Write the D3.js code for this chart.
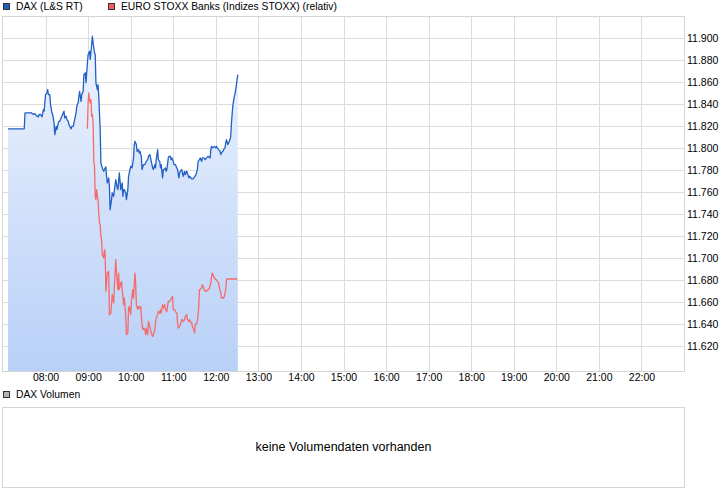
<!DOCTYPE html>
<html>
<head>
<meta charset="utf-8">
<title>DAX (L&amp;S RT) Intraday</title>
<script src="https://d3js.org/d3.v7.min.js"></script>
<style>
  body { margin: 0; background: #fff; }
  svg { display: block; font-family: "Liberation Sans", Arial, sans-serif; }
  .grid line { stroke: #dcdcdc; shape-rendering: crispEdges; }
  .frame { fill: none; stroke: #d4d4d4; shape-rendering: crispEdges; }
  .axis text { font-size: 10.5px; fill: #000; }
  .axis path, .axis line { display: none; }
  .legend text { font-size: 10.3px; fill: #000; }
</style>
</head>
<body>
<svg id="chart" width="726" height="496"></svg>
<script>
// DAX (L&S RT), intraday points
const daxTimes = ["07:07","07:30","07:31","07:40","07:43","07:45","07:47","07:50","07:51","07:53","07:55","07:57","07:58",
  "08:00","08:02","08:03","08:04","08:06","08:07","08:09","08:10","08:12","08:13","08:15","08:16","08:18","08:19","08:20",
  "08:22","08:23","08:25","08:26","08:27","08:29","08:30","08:32","08:33","08:34","08:36","08:37","08:39","08:40","08:41",
  "08:43","08:44","08:46","08:47","08:48","08:50","08:51","08:53","08:54","08:56","08:57","08:59",
  "09:00","09:02","09:03","09:05","09:06","09:07","09:09","09:10","09:11","09:13","09:14","09:15","09:17","09:18","09:20",
  "09:22","09:24","09:25","09:26","09:27","09:29","09:30","09:31","09:33","09:34","09:36","09:38","09:39","09:41","09:42",
  "09:44","09:45","09:46","09:48","09:49","09:50","09:51","09:53","09:54","09:56","09:57","09:59",
  "10:00","10:02","10:03","10:04","10:05","10:06","10:08","10:09","10:11","10:12","10:13","10:15","10:16","10:18","10:20",
  "10:21","10:22","10:24","10:25","10:27","10:28","10:29","10:31","10:32","10:34","10:35","10:36","10:38","10:39","10:41",
  "10:42","10:43","10:45","10:46","10:47","10:49","10:50","10:51","10:53","10:54","10:56","10:57","10:58",
  "11:00","11:01","11:03","11:05","11:06","11:08","11:09","11:10","11:12","11:13","11:14","11:16","11:17","11:19","11:20",
  "11:22","11:23","11:25","11:26","11:28","11:30","11:32","11:34","11:35","11:37","11:38","11:40","11:41","11:43","11:45",
  "11:47","11:49","11:52","11:53","11:54","11:56","11:58",
  "12:00","12:01","12:02","12:04","12:06","12:07","12:08","12:10","12:11","12:13","12:14","12:15","12:17","12:18","12:20",
  "12:21","12:22","12:24","12:26","12:27","12:29","12:31"];
const daxValues = [11817.5,11817.5,11832,11832,11830.5,11831.4,11829.5,11828.4,11830.5,11830.5,11828.4,11835,11833.5,
  11848.6,11850.2,11853.2,11848.6,11848.6,11839.5,11832,11830.5,11822.9,11812.3,11819.8,11816.8,11822.9,11824.4,11824.4,
  11827.5,11828.9,11832,11833.5,11827.5,11828.9,11825.9,11824.4,11821.4,11819.8,11817.5,11819.8,11819.8,11822.9,11825.9,
  11832,11838,11841.1,11847.1,11851.6,11842.5,11848.6,11851.6,11866.8,11868.4,11859.3,11877.5,
  11885,11888,11880.5,11894.1,11901.6,11895.6,11886.5,11885,11859.3,11853.2,11857.7,11847.1,11816.8,11786.5,11782,
  11778.9,11782,11782.9,11774.4,11768.4,11772.9,11765.3,11744.1,11753.2,11759.3,11756.2,11766.8,11771.4,11763.8,11762.3,
  11777.5,11769.8,11762.3,11768.4,11756.2,11762.3,11762.3,11759.3,11753.2,11762.3,11774.4,11780.5,
  11783.5,11782,11786.5,11791.1,11803.2,11806.2,11803.2,11797.1,11798.6,11795.6,11797.1,11792.5,11780.5,11785,11785,
  11786.5,11788,11789.5,11792.5,11794.1,11791.1,11788,11782,11780.5,11785,11782,11789.5,11798.6,11789.5,11788,
  11782,11785,11772.9,11780.5,11780.5,11782,11778.9,11780.5,11791.1,11792.5,11792.5,11789.5,11791.1,
  11788,11785,11785,11782,11780.5,11772.9,11777.5,11778.9,11780.5,11777.5,11774.4,11778.9,11775.9,11778.9,11777.5,
  11772.9,11774.4,11772.9,11772,11772,11773.8,11775.9,11780.5,11788,11789.5,11791.1,11788,11791.1,11791.1,11789.5,
  11791.1,11792.5,11791.1,11798.6,11801.6,11800.2,11801.6,
  11800.2,11801.6,11800.2,11798.6,11797.1,11794.1,11795.6,11797.1,11798.6,11800.2,11804.7,11807.7,11803.2,11804.7,11807.7,
  11810.7,11822.9,11838.6,11846.8,11848.6,11857.7,11866.8];

// EURO STOXX Banks (Indizes STOXX), relative to DAX
const stoxxTimes = ["08:59","09:00","09:01","09:02","09:03","09:04","09:05","09:06","09:07","09:08","09:09","09:10","09:11",
  "09:12","09:13","09:14","09:15","09:16","09:17","09:18","09:19","09:20","09:22","09:23","09:24","09:25","09:27","09:29",
  "09:30","09:32","09:33","09:34","09:36","09:37","09:39","09:40","09:42","09:43","09:44","09:46","09:47","09:49","09:50",
  "09:51","09:53","09:54","09:56","09:57","09:58",
  "10:00","10:01","10:03","10:04","10:06","10:07","10:08","10:10","10:11","10:12","10:14","10:15","10:17","10:18","10:20",
  "10:21","10:22","10:24","10:25","10:27","10:28","10:29","10:31","10:32","10:34","10:35","10:36","10:38","10:39","10:41",
  "10:42","10:43","10:45","10:46","10:48","10:49","10:51","10:52","10:53","10:55","10:56","10:58","10:59",
  "11:00","11:02","11:03","11:05","11:06","11:07","11:09","11:10","11:12","11:13","11:14","11:16","11:17","11:19","11:20",
  "11:22","11:23","11:24","11:26","11:27","11:29","11:30","11:31","11:33","11:34","11:36","11:37","11:38","11:40","11:41",
  "11:43","11:44","11:45","11:47","11:48","11:50","11:51","11:53","11:54","11:55","11:57","11:58",
  "12:00","12:01","12:02","12:04","12:05","12:07","12:08","12:09","12:11","12:12","12:14","12:15","12:16","12:30"];
const stoxxValues = [11817.5,11841.1,11850.2,11844.1,11841.1,11844.1,11828.9,11830.5,11822.9,11788,11783.5,11756.2,11753.2,
  11762.3,11756.2,11753.2,11741.1,11732,11730.5,11719.8,11716.8,11703.2,11700.2,11707.7,11704.7,11669.8,11686.5,11688,
  11648.6,11650.2,11657.7,11666.8,11659.3,11674.4,11698.6,11686.5,11671.4,11686.5,11671.4,11677.4,11678.9,11665.3,11657.7,
  11663.8,11647.1,11630.5,11632,11654.7,11656.2,
  11648.6,11660.7,11671.4,11663.8,11686.5,11677.4,11657.7,11653.2,11656.2,11654.7,11656.2,11647.1,11635,11636.5,11635,
  11630.5,11636.5,11630.5,11642.5,11638,11635,11632,11628.9,11630.5,11635,11641.1,11645.6,11648.6,11651.6,11650.2,
  11653.2,11650.2,11657.7,11654.7,11657.7,11653.2,11651.6,11656.2,11660.7,11660.7,11662.3,11663.8,11665.3,
  11653.2,11653.2,11651.6,11650.2,11642.5,11636.5,11638,11639.5,11644.1,11644.1,11642.5,11644.1,11647.1,11648.6,11644.1,
  11642.5,11644.1,11642.5,11641.1,11638,11635,11632,11639.5,11641.1,11642.5,11656.2,11671.4,11671.4,11672.9,11675.9,
  11672.9,11671.4,11669.8,11669.8,11671.4,11671.4,11672.9,11677.4,11683.5,11686.5,11683.5,11682,
  11680.5,11680.5,11678.9,11677.4,11672.9,11668.4,11663.8,11663.8,11663.8,11665.3,11671.4,11680.5,11681.1,11681.1];

const priceTicks = [11620,11640,11660,11680,11700,11720,11740,11760,11780,11800,11820,11840,11860,11880,11900];
const hourTicks = ["08:00","09:00","10:00","11:00","12:00","13:00","14:00","15:00","16:00","17:00","18:00",
  "19:00","20:00","21:00","22:00"];

const svg = d3.select("#chart");
const parseTime = d3.timeParse("%H:%M");
const de = d3.formatLocale({ decimal: ",", thousands: ".", grouping: [3], currency: ["", " €"] });

const plot = { left: 3, right: 684, top: 16, bottom: 371 };

const x = d3.scaleTime()
  .domain([parseTime("07:00"), parseTime("23:00")])
  .range([plot.left, plot.right]);
const y = d3.scaleLinear()
  .domain([11597.5, 11920])
  .range([plot.bottom, plot.top]);

const dax = daxTimes.map((t, i) => ({ t: parseTime(t), v: daxValues[i] }));
const stoxx = stoxxTimes.map((t, i) => ({ t: parseTime(t), v: stoxxValues[i] }));

// fill gradient under the DAX line
const defs = svg.append("defs");
const grad = defs.append("linearGradient")
  .attr("id", "daxFill")
  .attr("gradientUnits", "userSpaceOnUse")
  .attr("x1", 0).attr("x2", 0)
  .attr("y1", plot.top).attr("y2", plot.bottom);
grad.append("stop").attr("offset", "0%").attr("stop-color", "#f0f5fe");
grad.append("stop").attr("offset", "100%").attr("stop-color", "#b8d0f7");

// gridlines
const grid = svg.append("g").attr("class", "grid");
grid.selectAll(".h")
  .data(priceTicks.concat([11920]))
  .join("line")
  .attr("x1", plot.left).attr("x2", plot.right + 1)
  .attr("y1", d => Math.round(y(d)) + 0.5)
  .attr("y2", d => Math.round(y(d)) + 0.5);
grid.selectAll(".v")
  .data(hourTicks)
  .join("line")
  .attr("x1", d => Math.round(x(parseTime(d))) + 0.5)
  .attr("x2", d => Math.round(x(parseTime(d))) + 0.5)
  .attr("y1", plot.top).attr("y2", plot.bottom);

svg.append("rect")
  .attr("class", "frame")
  .attr("x", plot.left - 0.5).attr("y", plot.top + 0.5)
  .attr("width", plot.right - plot.left + 1).attr("height", plot.bottom - plot.top);

// area + lines
svg.append("path")
  .datum(dax)
  .attr("fill", "url(#daxFill)")
  .attr("d", d3.area().x(d => x(d.t)).y0(plot.bottom).y1(d => y(d.v)));

svg.append("path")
  .datum(dax)
  .attr("fill", "none")
  .attr("stroke", "#2160c4")
  .attr("stroke-width", 1.3)
  .attr("stroke-linejoin", "round")
  .attr("d", d3.line().x(d => x(d.t)).y(d => y(d.v)));

svg.append("path")
  .datum(stoxx)
  .attr("fill", "none")
  .attr("stroke", "#f56b6b")
  .attr("stroke-width", 1.3)
  .attr("stroke-linejoin", "round")
  .attr("d", d3.line().x(d => x(d.t)).y(d => y(d.v)));

// axes (labels only)
svg.append("g")
  .attr("class", "axis")
  .attr("transform", `translate(0,${plot.bottom})`)
  .call(d3.axisBottom(x)
    .tickValues(hourTicks.map(parseTime))
    .tickFormat(d3.timeFormat("%H:%M"))
    .tickSize(0)
    .tickPadding(2.5));

svg.append("g")
  .attr("class", "axis")
  .attr("transform", `translate(${plot.right},0)`)
  .call(d3.axisRight(y)
    .tickValues(priceTicks)
    .tickFormat(de.format(",d"))
    .tickSize(0)
    .tickPadding(3));

// legend
const legendItems = [
  { label: "DAX (L&S RT)", color: "#1f5ec2", x: 3, y: 3 },
  { label: "EURO STOXX Banks (Indizes STOXX) (relativ)", color: "#f25c5c", x: 108, y: 3 },
  { label: "DAX Volumen", color: "#b4b4b4", x: 3, y: 391 }
];
const legend = svg.append("g").attr("class", "legend");
legend.selectAll("rect")
  .data(legendItems)
  .join("rect")
  .attr("x", d => d.x + 0.5).attr("y", d => d.y + 0.5)
  .attr("width", 6).attr("height", 6)
  .attr("fill", d => d.color)
  .attr("stroke", "#333")
  .attr("stroke-width", 1)
  .style("shape-rendering", "crispEdges");
legend.selectAll("text")
  .data(legendItems)
  .join("text")
  .attr("x", d => d.x + 13)
  .attr("y", d => d.y + 7)
  .text(d => d.label);

// volume panel
svg.append("rect")
  .attr("class", "frame")
  .attr("x", 2.5).attr("y", 407.5)
  .attr("width", 682).attr("height", 80);
svg.append("text")
  .attr("x", (plot.left + plot.right) / 2)
  .attr("y", 451)
  .attr("text-anchor", "middle")
  .style("font-size", "12.5px")
  .text("keine Volumendaten vorhanden");
</script>
</body>
</html>
